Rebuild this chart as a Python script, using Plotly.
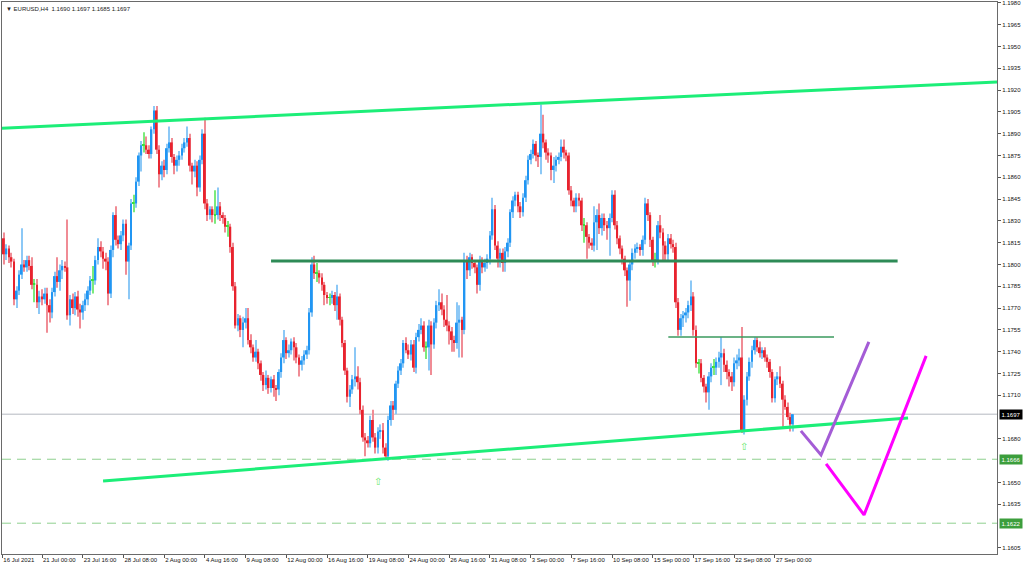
import plotly.graph_objects as go

# ---------------- DATA (EURUSD H4) ----------------
OPEN = [
    1.1809, 1.1818, 1.1807, 1.1811, 1.1805, 1.1802, 1.1776, 1.1782, 1.1793, 1.1800,
    1.1798, 1.1803, 1.1799, 1.1786, 1.1786, 1.1774, 1.1778, 1.1776, 1.1780, 1.1772,
    1.1767, 1.1781, 1.1792, 1.1788, 1.1796, 1.1799, 1.1798, 1.1765, 1.1776, 1.1770,
    1.1778, 1.1769, 1.1767, 1.1772, 1.1776, 1.1782, 1.1789, 1.1789, 1.1803, 1.1812,
    1.1809, 1.1804, 1.1802, 1.1780, 1.1810, 1.1834, 1.1817, 1.1814, 1.1820, 1.1828,
    1.1802, 1.1813, 1.1842, 1.1842, 1.1857, 1.1875, 1.1882, 1.1882, 1.1879, 1.1876,
    1.1893, 1.1906, 1.1879, 1.1862, 1.1868, 1.1865, 1.1880, 1.1884, 1.1874, 1.1868,
    1.1872, 1.1875, 1.1880, 1.1884, 1.1887, 1.1868, 1.1864, 1.1868, 1.1853, 1.1872,
    1.1890, 1.1842, 1.1834, 1.1838, 1.1834, 1.1834, 1.1840, 1.1834, 1.1832, 1.1826,
    1.1826, 1.1812, 1.1785, 1.1758, 1.1763, 1.1755, 1.1760, 1.1763, 1.1748, 1.1743,
    1.1736, 1.1740, 1.1732, 1.1724, 1.1717, 1.1722, 1.1715, 1.1721, 1.1715, 1.1714,
    1.1726, 1.1736, 1.1748, 1.1739, 1.1741, 1.1747, 1.1743, 1.1736, 1.1731, 1.1734,
    1.1738, 1.1741, 1.1767, 1.1800, 1.1794, 1.1794, 1.1791, 1.1786, 1.1779, 1.1777,
    1.1777, 1.1779, 1.1772, 1.1778, 1.1762, 1.1746, 1.1727, 1.1709, 1.1714, 1.1721,
    1.1723, 1.1719, 1.1700, 1.1681, 1.1679, 1.1677, 1.1693, 1.1681, 1.1674, 1.1685,
    1.1686, 1.1674, 1.1668, 1.1693, 1.1703, 1.1700, 1.1718, 1.1727, 1.1732, 1.1746,
    1.1741, 1.1738, 1.1745, 1.1729, 1.1750, 1.1755, 1.1758, 1.1743, 1.1743, 1.1758,
    1.1745, 1.1760, 1.1772, 1.1774, 1.1769, 1.1762, 1.1758, 1.1754, 1.1748, 1.1746,
    1.1760, 1.1762, 1.1755, 1.1803, 1.1796, 1.1805, 1.1801, 1.1798, 1.1786, 1.1803,
    1.1798, 1.1801, 1.1804, 1.1820, 1.1838, 1.1813, 1.1804, 1.1808, 1.1801, 1.1809,
    1.1815, 1.1836, 1.1844, 1.1848, 1.1840, 1.1836, 1.1846, 1.1858, 1.1872, 1.1876,
    1.1883, 1.1875, 1.1874, 1.1890, 1.1884, 1.1877, 1.1875, 1.1865, 1.1868, 1.1872,
    1.1874, 1.1881, 1.1877, 1.1875, 1.1851, 1.1844, 1.1840, 1.1846, 1.1844, 1.1827,
    1.1827, 1.1819, 1.1815, 1.1813, 1.1829, 1.1834, 1.1825, 1.1832, 1.1827, 1.1825,
    1.1832, 1.1848, 1.1827, 1.1818, 1.1811, 1.1804, 1.1796, 1.1789, 1.1800, 1.1808,
    1.1811, 1.1812, 1.1810, 1.1817, 1.1842, 1.1834, 1.1817, 1.1803, 1.1803, 1.1827,
    1.1822, 1.1813, 1.1807, 1.1818, 1.1814, 1.1812, 1.1774, 1.1755, 1.1763, 1.1765,
    1.1767, 1.1772, 1.1778, 1.1755, 1.1732, 1.1732, 1.1722, 1.1716, 1.1712, 1.1723,
    1.1729, 1.1729, 1.1733, 1.1736, 1.1739, 1.1731, 1.1726, 1.1723, 1.1719, 1.1732,
    1.1734, 1.1736, 1.1686, 1.1707, 1.1723, 1.1733, 1.1741, 1.1748, 1.1743, 1.1739,
    1.1741, 1.1736, 1.1733, 1.1726, 1.1708, 1.1721, 1.1723, 1.1718, 1.1707, 1.1702,
    1.1695, 1.1690,
]
HIGH = [
    1.1824, 1.1822, 1.1814, 1.1813, 1.1808, 1.1804, 1.1785, 1.1796, 1.1825, 1.1803,
    1.1806, 1.1806, 1.1805, 1.1790, 1.1790, 1.1782, 1.1783, 1.1784, 1.1784, 1.1776,
    1.1784, 1.1795, 1.1805, 1.1800, 1.1803, 1.1802, 1.1831, 1.1779, 1.1780, 1.1781,
    1.1782, 1.1773, 1.1775, 1.1780, 1.1785, 1.1792, 1.1799, 1.1806, 1.1818, 1.1816,
    1.1812, 1.1808, 1.1805, 1.1813, 1.1836, 1.1840, 1.1820, 1.1823, 1.1831, 1.1831,
    1.1815, 1.1845, 1.1848, 1.1860, 1.1877, 1.1885, 1.1891, 1.1888, 1.1882, 1.1895,
    1.1909, 1.1909, 1.1882, 1.1871, 1.1872, 1.1883, 1.1895, 1.1887, 1.1876, 1.1875,
    1.1878, 1.1883, 1.1887, 1.1895, 1.1890, 1.1870, 1.1872, 1.1871, 1.1875, 1.1893,
    1.1901, 1.1845, 1.1840, 1.1840, 1.1851, 1.1853, 1.1843, 1.1836, 1.1834, 1.1830,
    1.1828, 1.1815, 1.1788, 1.1766, 1.1765, 1.1764, 1.1770, 1.1770, 1.1752, 1.1745,
    1.1748, 1.1742, 1.1734, 1.1726, 1.1727, 1.1724, 1.1723, 1.1724, 1.1717, 1.1728,
    1.1739, 1.1755, 1.1750, 1.1745, 1.1749, 1.1750, 1.1746, 1.1738, 1.1737, 1.1741,
    1.1744, 1.1770, 1.1805, 1.1806, 1.1801, 1.1796, 1.1794, 1.1788, 1.1781, 1.1780,
    1.1782, 1.1781, 1.1786, 1.1780, 1.1764, 1.1748, 1.1729, 1.1717, 1.1724, 1.1743,
    1.1730, 1.1722, 1.1703, 1.1684, 1.1682, 1.1696, 1.1700, 1.1684, 1.1688, 1.1690,
    1.1691, 1.1677, 1.1696, 1.1706, 1.1706, 1.1720, 1.1730, 1.1735, 1.1748, 1.1750,
    1.1745, 1.1748, 1.1748, 1.1753, 1.1759, 1.1763, 1.1761, 1.1747, 1.1762, 1.1761,
    1.1763, 1.1775, 1.1783, 1.1780, 1.1772, 1.1779, 1.1761, 1.1757, 1.1751, 1.1774,
    1.1772, 1.1764, 1.1808, 1.1806, 1.1808, 1.1807, 1.1803, 1.1800, 1.1806, 1.1805,
    1.1804, 1.1807, 1.1823, 1.1846, 1.1841, 1.1816, 1.1811, 1.1811, 1.1812, 1.1818,
    1.1838, 1.1847, 1.1850, 1.1850, 1.1843, 1.1849, 1.1861, 1.1875, 1.1879, 1.1886,
    1.1885, 1.1877, 1.1910, 1.1903, 1.1886, 1.1880, 1.1877, 1.1874, 1.1875, 1.1877,
    1.1886, 1.1886, 1.1879, 1.1877, 1.1854, 1.1846, 1.1849, 1.1849, 1.1846, 1.1832,
    1.1829, 1.1821, 1.1818, 1.1840, 1.1838, 1.1842, 1.1835, 1.1835, 1.1830, 1.1835,
    1.1851, 1.1851, 1.1830, 1.1820, 1.1813, 1.1806, 1.1798, 1.1802, 1.1811, 1.1814,
    1.1815, 1.1814, 1.1820, 1.1846, 1.1845, 1.1836, 1.1819, 1.1808, 1.1830, 1.1834,
    1.1825, 1.1816, 1.1821, 1.1821, 1.1817, 1.1815, 1.1777, 1.1766, 1.1768, 1.1770,
    1.1775, 1.1789, 1.1781, 1.1758, 1.1735, 1.1735, 1.1724, 1.1718, 1.1726, 1.1732,
    1.1735, 1.1736, 1.1740, 1.1750, 1.1742, 1.1734, 1.1728, 1.1726, 1.1736, 1.1738,
    1.1742, 1.1757, 1.1710, 1.1726, 1.1736, 1.1744, 1.1750, 1.1750, 1.1747, 1.1743,
    1.1743, 1.1738, 1.1735, 1.1728, 1.1723, 1.1726, 1.1730, 1.1720, 1.1710, 1.1705,
    1.1698, 1.1697,
]
LOW = [
    1.1798, 1.1800, 1.1803, 1.1801, 1.1798, 1.1772, 1.1770, 1.1779, 1.1790, 1.1795,
    1.1795, 1.1796, 1.1783, 1.1774, 1.1770, 1.1766, 1.1772, 1.1773, 1.1753, 1.1760,
    1.1763, 1.1778, 1.1784, 1.1782, 1.1790, 1.1795, 1.1762, 1.1758, 1.1766, 1.1765,
    1.1764, 1.1756, 1.1762, 1.1768, 1.1772, 1.1779, 1.1780, 1.1786, 1.1800, 1.1805,
    1.1797, 1.1796, 1.1772, 1.1777, 1.1805, 1.1813, 1.1811, 1.1810, 1.1816, 1.1793,
    1.1776, 1.1810, 1.1836, 1.1839, 1.1854, 1.1864, 1.1877, 1.1876, 1.1873, 1.1873,
    1.1890, 1.1876, 1.1853, 1.1858, 1.1860, 1.1862, 1.1877, 1.1870, 1.1862, 1.1864,
    1.1868, 1.1872, 1.1877, 1.1881, 1.1864, 1.1855, 1.1860, 1.1847, 1.1850, 1.1869,
    1.1838, 1.1830, 1.1831, 1.1829, 1.1828, 1.1831, 1.1830, 1.1828, 1.1822, 1.1819,
    1.1808, 1.1782, 1.1756, 1.1754, 1.1750, 1.1743, 1.1756, 1.1745, 1.1739, 1.1733,
    1.1733, 1.1728, 1.1720, 1.1713, 1.1714, 1.1711, 1.1712, 1.1709, 1.1706, 1.1710,
    1.1722, 1.1732, 1.1735, 1.1736, 1.1738, 1.1734, 1.1732, 1.1723, 1.1727, 1.1731,
    1.1735, 1.1738, 1.1764, 1.1790, 1.1788, 1.1787, 1.1782, 1.1772, 1.1773, 1.1772,
    1.1773, 1.1768, 1.1762, 1.1758, 1.1743, 1.1724, 1.1705, 1.1702, 1.1711, 1.1716,
    1.1714, 1.1697, 1.1678, 1.1668, 1.1674, 1.1674, 1.1678, 1.1670, 1.1670, 1.1680,
    1.1670, 1.1666, 1.1665, 1.1689, 1.1693, 1.1697, 1.1715, 1.1724, 1.1729, 1.1739,
    1.1735, 1.1734, 1.1726, 1.1725, 1.1747, 1.1752, 1.1740, 1.1735, 1.1727, 1.1724,
    1.1742, 1.1756, 1.1768, 1.1765, 1.1757, 1.1754, 1.1745, 1.1740, 1.1740, 1.1742,
    1.1736, 1.1736, 1.1752, 1.1790, 1.1792, 1.1797, 1.1794, 1.1780, 1.1782, 1.1794,
    1.1795, 1.1797, 1.1800, 1.1817, 1.1810, 1.1798, 1.1798, 1.1795, 1.1795, 1.1805,
    1.1812, 1.1832, 1.1840, 1.1836, 1.1832, 1.1833, 1.1843, 1.1855, 1.1869, 1.1873,
    1.1871, 1.1867, 1.1862, 1.1880, 1.1872, 1.1870, 1.1858, 1.1856, 1.1864, 1.1869,
    1.1871, 1.1873, 1.1871, 1.1848, 1.1840, 1.1836, 1.1836, 1.1840, 1.1823, 1.1815,
    1.1804, 1.1811, 1.1810, 1.1809, 1.1810, 1.1821, 1.1820, 1.1823, 1.1817, 1.1806,
    1.1829, 1.1824, 1.1814, 1.1807, 1.1800, 1.1792, 1.1771, 1.1775, 1.1796, 1.1804,
    1.1808, 1.1806, 1.1806, 1.1814, 1.1830, 1.1812, 1.1799, 1.1798, 1.1800, 1.1818,
    1.1803, 1.1802, 1.1803, 1.1811, 1.1808, 1.1770, 1.1751, 1.1751, 1.1757, 1.1760,
    1.1763, 1.1768, 1.1751, 1.1729, 1.1725, 1.1719, 1.1712, 1.1705, 1.1700, 1.1719,
    1.1724, 1.1724, 1.1729, 1.1717, 1.1726, 1.1721, 1.1716, 1.1713, 1.1716, 1.1728,
    1.1730, 1.1684, 1.1683, 1.1703, 1.1720, 1.1729, 1.1738, 1.1740, 1.1736, 1.1735,
    1.1733, 1.1729, 1.1722, 1.1705, 1.1705, 1.1717, 1.1715, 1.1688, 1.1700, 1.1693,
    1.1685, 1.1685,
]
CLOSE = [
    1.1818, 1.1807, 1.1811, 1.1805, 1.1802, 1.1776, 1.1782, 1.1793, 1.1800, 1.1798,
    1.1803, 1.1799, 1.1786, 1.1786, 1.1774, 1.1778, 1.1776, 1.1780, 1.1772, 1.1767,
    1.1781, 1.1792, 1.1788, 1.1796, 1.1799, 1.1798, 1.1765, 1.1776, 1.1770, 1.1778,
    1.1769, 1.1767, 1.1772, 1.1776, 1.1782, 1.1789, 1.1789, 1.1803, 1.1812, 1.1809,
    1.1804, 1.1802, 1.1780, 1.1810, 1.1834, 1.1817, 1.1814, 1.1820, 1.1828, 1.1802,
    1.1813, 1.1842, 1.1842, 1.1857, 1.1875, 1.1882, 1.1882, 1.1879, 1.1876, 1.1893,
    1.1906, 1.1879, 1.1862, 1.1868, 1.1865, 1.1880, 1.1884, 1.1874, 1.1868, 1.1872,
    1.1875, 1.1880, 1.1884, 1.1887, 1.1868, 1.1864, 1.1868, 1.1853, 1.1872, 1.1890,
    1.1842, 1.1834, 1.1838, 1.1834, 1.1834, 1.1840, 1.1834, 1.1832, 1.1826, 1.1826,
    1.1812, 1.1785, 1.1758, 1.1763, 1.1755, 1.1760, 1.1763, 1.1748, 1.1743, 1.1736,
    1.1740, 1.1732, 1.1724, 1.1717, 1.1722, 1.1715, 1.1721, 1.1715, 1.1714, 1.1726,
    1.1736, 1.1748, 1.1739, 1.1741, 1.1747, 1.1743, 1.1736, 1.1731, 1.1734, 1.1738,
    1.1741, 1.1767, 1.1800, 1.1794, 1.1794, 1.1791, 1.1786, 1.1779, 1.1777, 1.1777,
    1.1779, 1.1772, 1.1778, 1.1762, 1.1746, 1.1727, 1.1709, 1.1714, 1.1721, 1.1723,
    1.1719, 1.1700, 1.1681, 1.1679, 1.1677, 1.1693, 1.1681, 1.1674, 1.1685, 1.1686,
    1.1674, 1.1668, 1.1693, 1.1703, 1.1700, 1.1718, 1.1727, 1.1732, 1.1746, 1.1741,
    1.1738, 1.1745, 1.1729, 1.1750, 1.1755, 1.1758, 1.1743, 1.1743, 1.1758, 1.1745,
    1.1760, 1.1772, 1.1774, 1.1769, 1.1762, 1.1758, 1.1754, 1.1748, 1.1746, 1.1760,
    1.1762, 1.1755, 1.1803, 1.1796, 1.1805, 1.1801, 1.1798, 1.1786, 1.1803, 1.1798,
    1.1801, 1.1804, 1.1820, 1.1838, 1.1813, 1.1804, 1.1808, 1.1801, 1.1809, 1.1815,
    1.1836, 1.1844, 1.1848, 1.1840, 1.1836, 1.1846, 1.1858, 1.1872, 1.1876, 1.1883,
    1.1875, 1.1874, 1.1890, 1.1884, 1.1877, 1.1875, 1.1865, 1.1868, 1.1872, 1.1874,
    1.1881, 1.1877, 1.1875, 1.1851, 1.1844, 1.1840, 1.1846, 1.1844, 1.1827, 1.1827,
    1.1819, 1.1815, 1.1813, 1.1829, 1.1834, 1.1825, 1.1832, 1.1827, 1.1825, 1.1832,
    1.1848, 1.1827, 1.1818, 1.1811, 1.1804, 1.1796, 1.1789, 1.1800, 1.1808, 1.1811,
    1.1812, 1.1810, 1.1817, 1.1842, 1.1834, 1.1817, 1.1803, 1.1803, 1.1827, 1.1822,
    1.1813, 1.1807, 1.1818, 1.1814, 1.1812, 1.1774, 1.1755, 1.1763, 1.1765, 1.1767,
    1.1772, 1.1778, 1.1755, 1.1732, 1.1732, 1.1722, 1.1716, 1.1712, 1.1723, 1.1729,
    1.1729, 1.1733, 1.1736, 1.1739, 1.1731, 1.1726, 1.1723, 1.1719, 1.1732, 1.1734,
    1.1736, 1.1686, 1.1707, 1.1723, 1.1733, 1.1741, 1.1748, 1.1743, 1.1739, 1.1741,
    1.1736, 1.1733, 1.1726, 1.1708, 1.1721, 1.1723, 1.1718, 1.1707, 1.1702, 1.1695,
    1.1690, 1.1697,
]

X_TICK_LABELS = [
    "16 Jul 2021", "21 Jul 00:00", "23 Jul 16:00", "28 Jul 08:00", "2 Aug 00:00",
    "4 Aug 16:00", "9 Aug 08:00", "12 Aug 00:00", "16 Aug 16:00", "19 Aug 08:00",
    "24 Aug 00:00", "26 Aug 16:00", "31 Aug 08:00", "3 Sep 00:00", "7 Sep 16:00",
    "10 Sep 08:00", "15 Sep 00:00", "17 Sep 16:00", "22 Sep 08:00", "27 Sep 00:00",
]
X_TICK_BARS = [0.4, 16, 32, 48, 64, 80, 96, 112, 128, 144,
               160, 176, 192, 208, 224, 240, 256, 272, 288, 304]
# price scale labels (those hidden behind the price tags are left out)
Y_TICKS = [1.1605, 1.1635, 1.1650, 1.1680, 1.1710, 1.1725, 1.1740,
           1.1755, 1.1770, 1.1785, 1.1800, 1.1815, 1.1830, 1.1845, 1.1860, 1.1875,
           1.1890, 1.1905, 1.1920, 1.1935, 1.1950, 1.1965, 1.1980]

# drawn objects (bar index, price)
UPPER_TREND_X = [-0.5, 391.3]
UPPER_TREND_Y = [1.18937, 1.19256]
LOWER_TREND_X = [40.0, 356.3]
LOWER_TREND_Y = [1.16511, 1.16944]
RESIST_X = [106.0, 352.2]
RESIST_Y = [1.18024, 1.18024]
MINOR_RES_X = [262.1, 327.2]
MINOR_RES_Y = [1.17501, 1.17501]
PURPLE_X = [314.2, 322.1, 340.9]
PURPLE_Y = [1.16855, 1.16690, 1.17467]
MAGENTA_X = [324.1, 339.0, 363.4]
MAGENTA_Y = [1.16628, 1.16277, 1.17371]
ARROW_X = [148.0, 291.8]
ARROW_Y = [1.16510, 1.16745]
BID_PRICE = 1.1697
SUPPORT_LEVELS = [1.1666, 1.1622]
TITLE = "\u25BC EURUSD,H4  1.1690 1.1697 1.1685 1.1697"

# ---------------- STYLE ----------------
BULL = "#2196F3"
BEAR = "#E8232E"
DOJI = "#3BE03B"
BULL_WICK = "#8CC8F6"
BEAR_WICK = "#F08C95"
DOJI_WICK = "#7BEA7B"
FONT = "Liberation Sans"

idx = list(range(len(CLOSE)))
body_base, body_h, body_c, wick_c = [], [], [], []
for o, c in zip(OPEN, CLOSE):
    body_base.append(min(o, c))
    body_h.append(max(abs(c - o), 0.00006))
    if c > o:
        body_c.append(BULL); wick_c.append(BULL_WICK)
    elif c < o:
        body_c.append(BEAR); wick_c.append(BEAR_WICK)
    else:
        body_c.append(DOJI); wick_c.append(DOJI_WICK)
wick_h = [h - l for h, l in zip(HIGH, LOW)]

fig = go.Figure()
fig.add_trace(go.Bar(x=idx, y=wick_h, base=LOW, width=0.42,
                     marker=dict(color=wick_c, line_width=0), hoverinfo="skip"))
fig.add_trace(go.Bar(x=idx, y=body_h, base=body_base, width=0.72,
                     marker=dict(color=body_c, line_width=0), hoverinfo="skip"))

def line(xs, ys, color, width):
    fig.add_trace(go.Scatter(x=xs, y=ys, mode="lines", hoverinfo="skip",
                             line=dict(color=color, width=width)))

line(RESIST_X, RESIST_Y, "#2E8B57", 3)
line(MINOR_RES_X, MINOR_RES_Y, "#3A9A5E", 1.5)
line(UPPER_TREND_X, UPPER_TREND_Y, "#1CEE78", 3)
line(LOWER_TREND_X, LOWER_TREND_Y, "#1CEE78", 3)
line(PURPLE_X, PURPLE_Y, "#A45CD6", 3)
line(MAGENTA_X, MAGENTA_Y, "#FF00FF", 3)

shapes = [dict(type="line", xref="paper", x0=0, x1=1, yref="y", y0=BID_PRICE, y1=BID_PRICE,
               line=dict(color="#B4B8C0", width=1), layer="below")]
for lv in SUPPORT_LEVELS:
    shapes.append(dict(type="line", xref="paper", x0=0, x1=1, yref="y", y0=lv, y1=lv,
                       line=dict(color="#8FD08F", width=1, dash="9px,6px"), layer="below"))

annotations = [dict(xref="paper", yref="paper", x=0, y=1, xanchor="left", yanchor="top",
                    xshift=2, yshift=-2, showarrow=False, text=TITLE,
                    font=dict(family=FONT, size=6, color="#222222"))]
tag_style = [(BID_PRICE, "#000000")] + [(lv, "#3C9E3C") for lv in SUPPORT_LEVELS]
for lv, bg in tag_style:
    annotations.append(dict(xref="paper", yref="y", x=1, y=lv, xanchor="left", yanchor="middle",
                            xshift=2, showarrow=False, text=f"{lv:.4f}", bgcolor=bg, borderpad=1.5,
                            font=dict(family=FONT, size=6, color="#FFFFFF")))
for ax_, ay_ in zip(ARROW_X, ARROW_Y):
    annotations.append(dict(x=ax_, y=ay_, xref="x", yref="y", showarrow=False, text="\u21E7",
                            font=dict(family="DejaVu Sans", size=10, color="#6AE86A")))

fig.update_layout(
    width=1023, height=568, autosize=False,
    margin=dict(l=2, r=26, t=2, b=14),
    paper_bgcolor="white", plot_bgcolor="white",
    barmode="overlay", showlegend=False, hovermode=False,
    shapes=shapes, annotations=annotations,
    font=dict(family=FONT, size=6, color="#111111"),
)
fig.update_xaxes(range=[0.28, 391.25], tickvals=X_TICK_BARS, ticktext=X_TICK_LABELS,
                 tickangle=0, automargin=False,
                 ticks="outside", ticklen=3, tickcolor="#555555", ticklabelposition="outside right",
                 showgrid=False, zeroline=False, showline=True, linecolor="#6A6A6A",
                 linewidth=1, mirror=True, tickfont=dict(family=FONT, size=6, color="#111111"))
fig.update_yaxes(range=[1.16008, 1.19806], side="right", tickvals=Y_TICKS,
                 tickformat=".4f", ticks="outside", ticklen=3, tickcolor="#555555",
                 automargin=False, ticklabeloverflow="allow",
                 showgrid=False, zeroline=False, showline=True, linecolor="#6A6A6A",
                 linewidth=1, mirror=True, tickfont=dict(family=FONT, size=6, color="#111111"))

fig.write_html("out.html", config={"displayModeBar": False},
               post_script="document.body.style.margin='0';document.body.style.overflow='hidden';")
